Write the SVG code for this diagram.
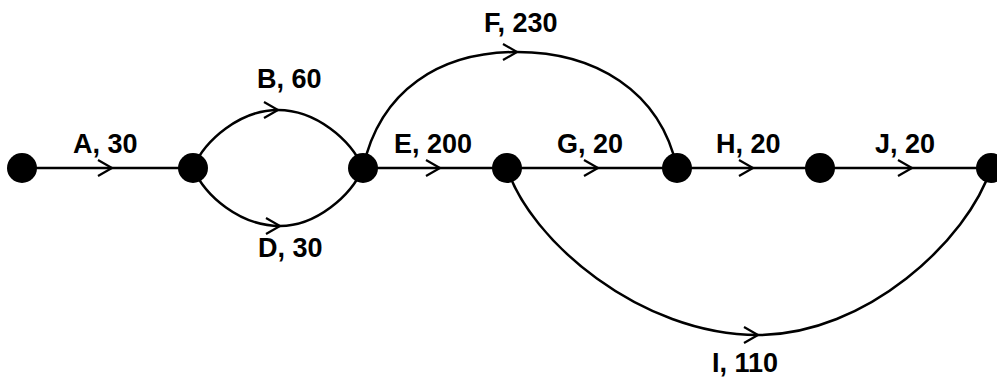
<svg xmlns="http://www.w3.org/2000/svg" width="997" height="379" viewBox="0 0 997 379">
<style>
.e{fill:none;stroke:#000;stroke-width:2.5}
.ar{marker-end:url(#chev)}
.n{fill:#000}
text{font-family:"Liberation Sans",Arial,sans-serif;font-weight:bold;font-size:27px;fill:#000}
</style>
<defs>
<marker id="chev" markerUnits="userSpaceOnUse" markerWidth="20" markerHeight="20" viewBox="-16 -10 20 20" refX="0" refY="0" orient="auto">
<path d="M-14,-8 L0,0 L-14,8" fill="none" stroke="#000" stroke-width="2.2"/>
</marker>
</defs>
<rect width="997" height="379" fill="#fff"/>
<g id="connectors">
<path class="e ar" d="M22,168 L112,168"/><path class="e" d="M112,168 L193,168"/>
<path class="e ar" d="M193,168 C205,140 240,110 278,110"/><path class="e" d="M278,110 C316,110 351,140 363,168"/>
<path class="e ar" d="M193,168 C205,196 240,226 280,226"/><path class="e" d="M280,226 C316,226 351,196 363,168"/>
<path class="e ar" d="M363,168 C380,90 440,52 517,52"/><path class="e" d="M517,52 C594,52 660,90 677,168"/>
<path class="e ar" d="M363,168 L440,168"/><path class="e" d="M440,168 L507,168"/>
<path class="e ar" d="M507,168 L598,168"/><path class="e" d="M598,168 L677,168"/>
<path class="e ar" d="M677,168 L753,168"/><path class="e" d="M753,168 L820,168"/>
<path class="e ar" d="M820,168 L912,168"/><path class="e" d="M912,168 L991,168"/>
<path class="e ar" d="M507,168 C530,240 640,335 758,335"/><path class="e" d="M758,335 C866,335 968,240 991,168"/>
</g>
<g id="n1"><circle class="n" cx="22" cy="168" r="15"/></g>
<g id="n2"><circle class="n" cx="193" cy="168" r="15"/></g>
<g id="n3"><circle class="n" cx="363" cy="168" r="15"/></g>
<g id="n4"><circle class="n" cx="507" cy="168" r="15"/></g>
<g id="n5"><circle class="n" cx="677" cy="168" r="15"/></g>
<g id="n6"><circle class="n" cx="820" cy="168" r="15"/></g>
<g id="n7"><circle class="n" cx="991" cy="168" r="15"/></g>
<g id="labels">
<text x="73" y="153">A, 30</text>
<text x="257" y="88">B, 60</text>
<text x="258" y="257">D, 30</text>
<text x="484" y="32">F, 230</text>
<text x="394" y="153">E, 200</text>
<text x="557" y="153">G, 20</text>
<text x="716" y="153">H, 20</text>
<text x="875" y="153">J, 20</text>
<text x="712" y="372">I, 110</text>
</g>
</svg>
